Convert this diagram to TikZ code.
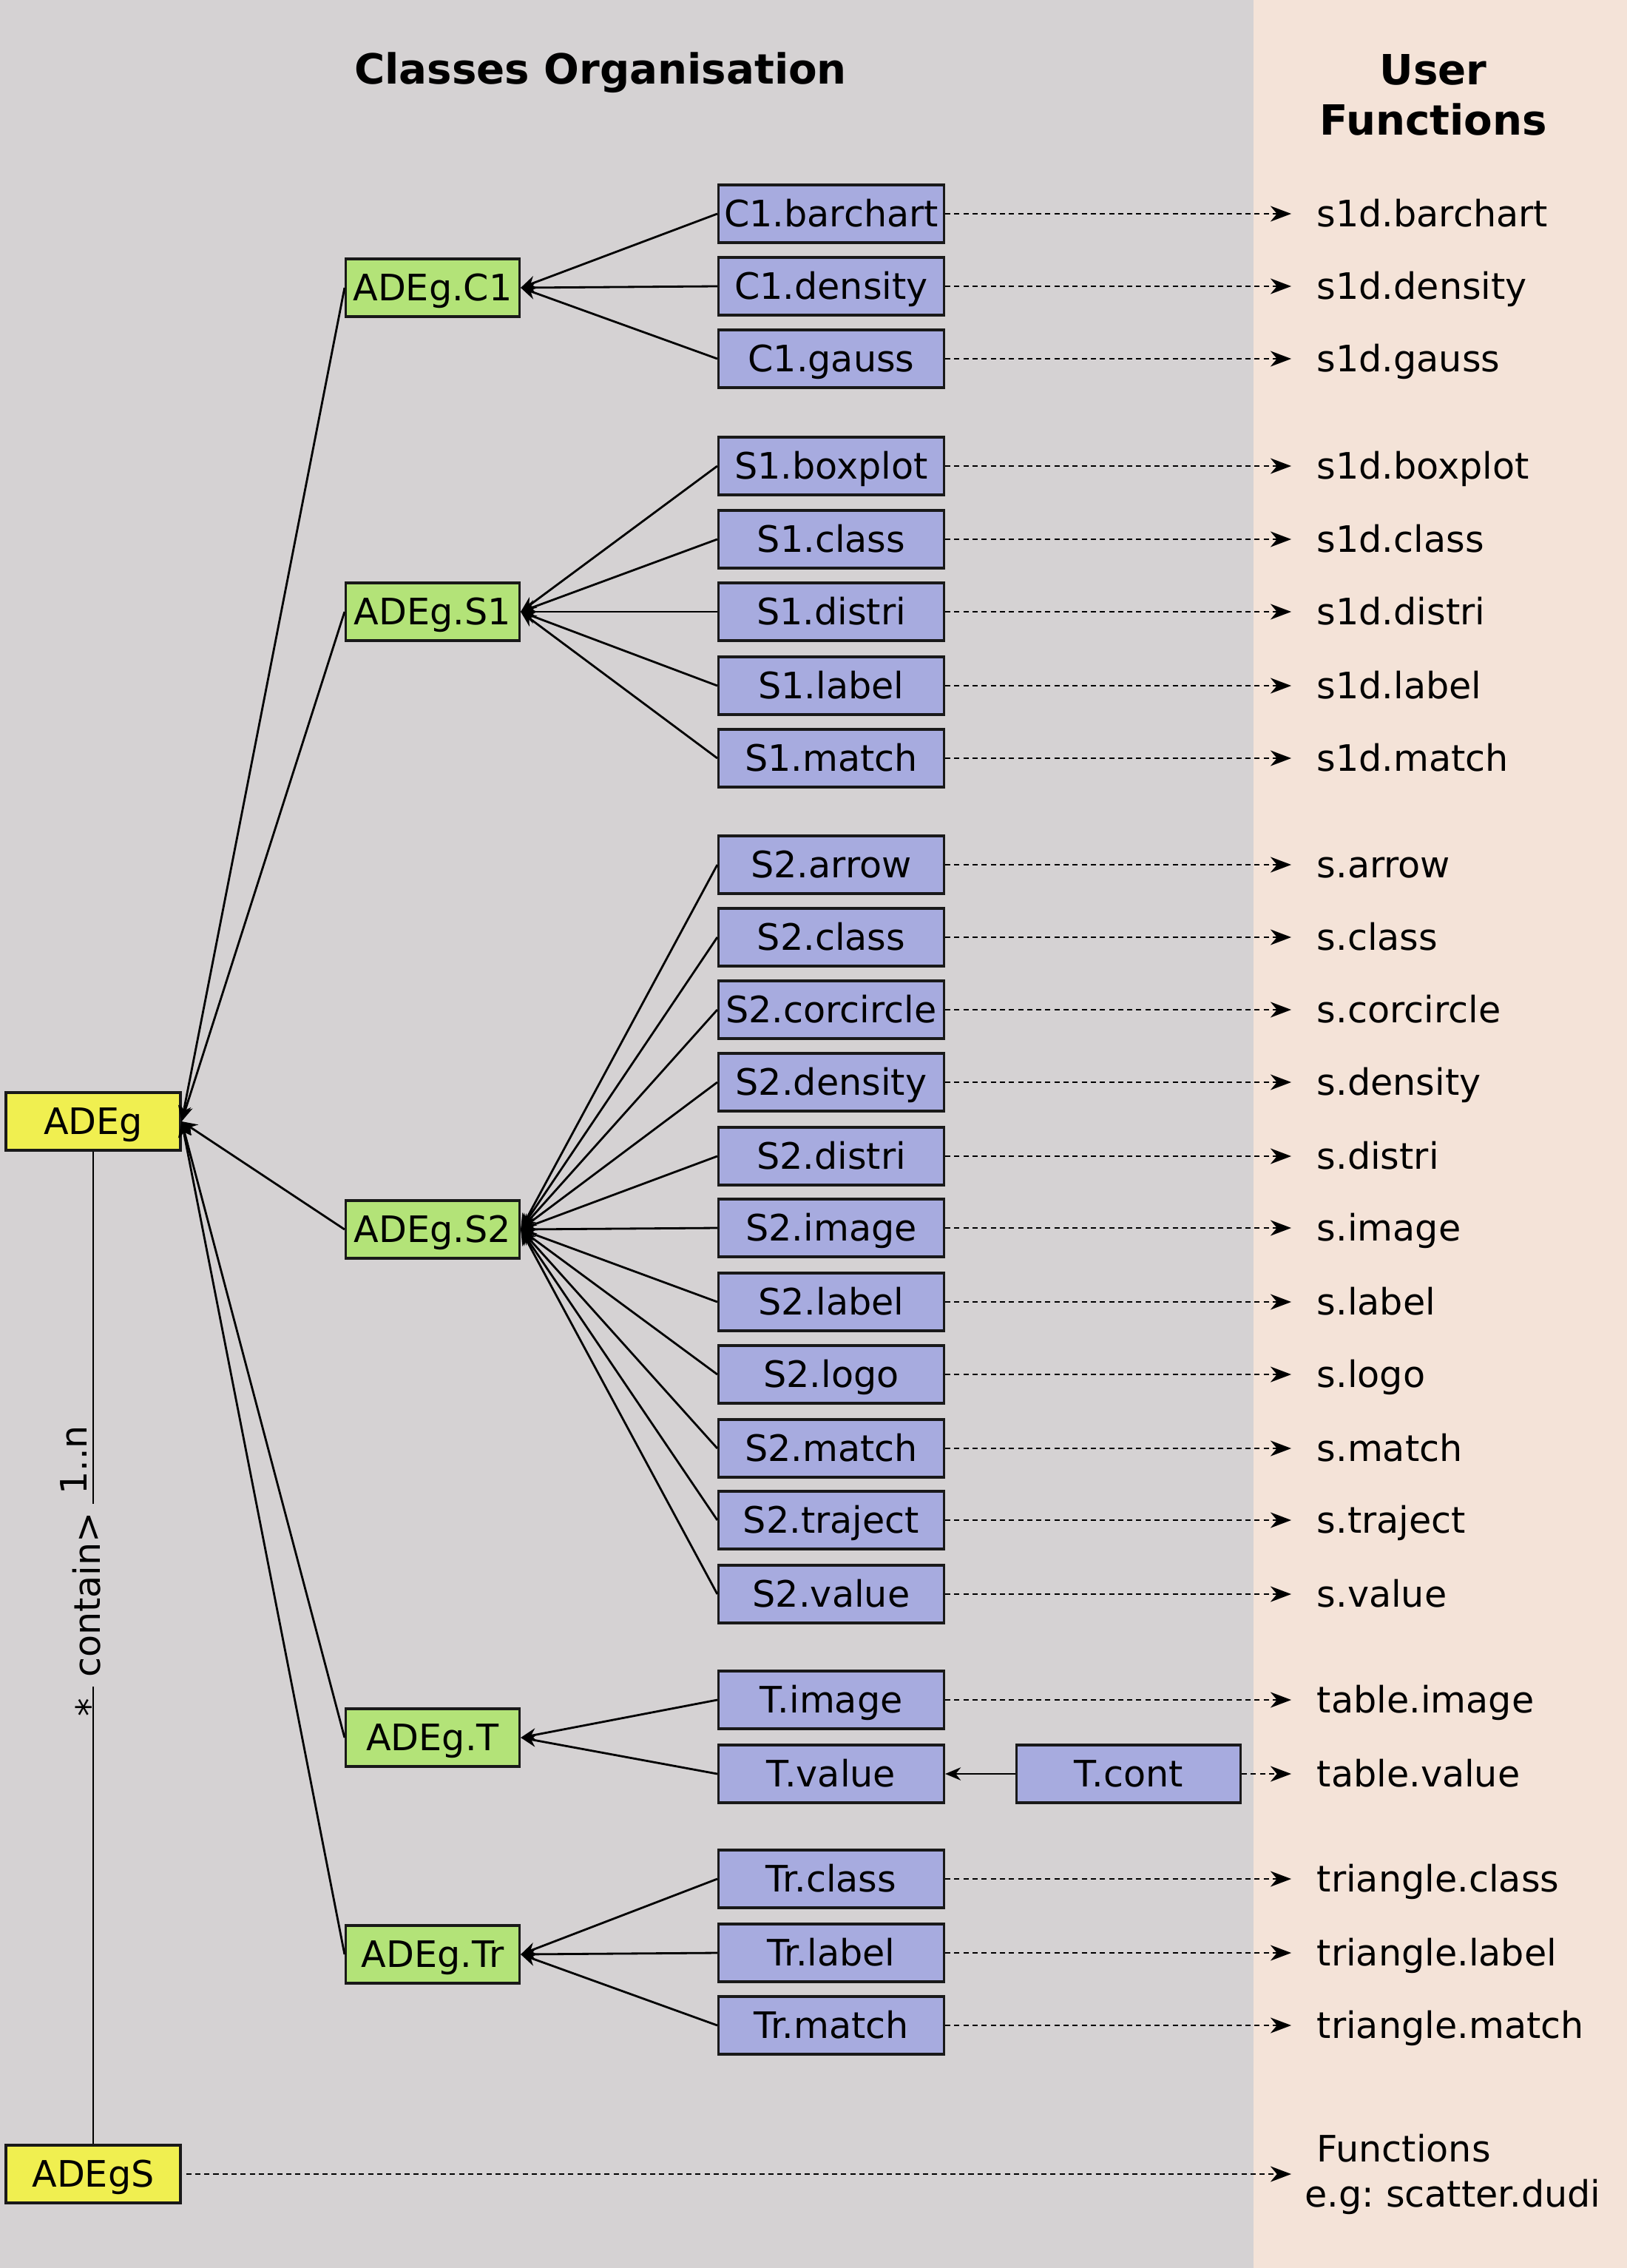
\documentclass[tikz,border=0pt]{standalone}
\usepackage{fontspec}
\setmainfont{DejaVu Sans}
\usetikzlibrary{arrows.meta, positioning}
\definecolor{clsbg}{HTML}{D5D2D3}
\definecolor{fnbg}{HTML}{F4E3D8}
\definecolor{cyel}{HTML}{F0EF50}
\definecolor{cgreen}{HTML}{B3E378}
\definecolor{cblue}{HTML}{A7ABDF}
\tikzset{
  % riga di testo
  oneline/.style={text height=12.7pt, text depth=3pt},
  % classe di base
  baseclass/.style={draw=black!90, line width=0.9pt, fill=cyel, minimum width=2.36cm,
    minimum height=0.78cm, inner sep=0pt, oneline},
  % classe intermedia
  midclass/.style={baseclass, fill=cgreen, minimum width=2.35cm},
  % classe foglia
  leafclass/.style={baseclass, fill=cblue, minimum width=3.05cm},
  % ereditarieta'
  inherit/.style={-{Stealth[length=6pt, width=5pt]}, line width=0.8pt},
  uses/.style={-{Stealth[length=6pt, width=5pt]}, line width=0.5pt},
  % collegamento a una funzione utente
  fnlink/.style={-{Stealth[length=8pt, width=6pt, inset=2.5pt]}, line width=0.6pt,
    dash pattern=on 2pt off 1.5pt},
  fnlbl/.style={anchor=west, inner sep=0pt},
  % titoli delle colonne
  coltitle/.style={font=\fontsize{16pt}{19.3pt}\selectfont\bfseries, align=center},
}
\begin{document}
\frenchspacing
\begin{tikzpicture}[every node/.style={font=\fontsize{14pt}{17.3pt}\selectfont}]
  \useasboundingbox (0,0) rectangle (22,-30.66);
  \fill[clsbg] (0,0) rectangle (16.95,-30.66);
  \fill[fnbg] (16.95,0) rectangle (22,-30.66);
  \node[coltitle] (tcls) at (8.12,-0.98) {Classes Organisation};
  \node[coltitle] (tfn) at (19.38,-1.28) {User\\Functions};
  % classi
  \node[baseclass] (adeg) at (1.26,-15.16) {ADEg};
  \node[baseclass] (adegs) at (1.26,-29.39) {ADEgS};
  \foreach \p/\t/\y in {c1/C1/3.89, s1/S1/8.27, s2/S2/16.62, t/T/23.49, tr/Tr/26.42} {
    \node[midclass] (\p) at (5.85,-\y) {ADEg.\t};
    \draw[inherit] (\p.west) -- (adeg.east);
  }
  \foreach \p/\t/\f/\y [count=\i] in {c1/C1.barchart/s1d.barchart/2.89, c1/C1.density/s1d.density/3.87,
      c1/C1.gauss/s1d.gauss/4.85, s1/S1.boxplot/s1d.boxplot/6.30, s1/S1.class/s1d.class/7.29,
      s1/S1.distri/s1d.distri/8.27, s1/S1.label/s1d.label/9.27, s1/S1.match/s1d.match/10.25,
      s2/S2.arrow/s.arrow/11.69, s2/S2.class/s.class/12.67, s2/S2.corcircle/s.corcircle/13.65,
      s2/S2.density/s.density/14.63, s2/S2.distri/s.distri/15.63, s2/S2.image/s.image/16.60,
      s2/S2.label/s.label/17.60, s2/S2.logo/s.logo/18.58, s2/S2.match/s.match/19.58,
      s2/S2.traject/s.traject/20.55, s2/S2.value/s.value/21.55, t/T.image/table.image/22.98,
      tr/Tr.class/triangle.class/25.40, tr/Tr.label/triangle.label/26.40,
      tr/Tr.match/triangle.match/27.38} {
    \node[leafclass] (leaf\i) at (11.24,-\y) {\t};
    \draw[inherit] (leaf\i.west) -- (\p.east);
    \node[fnlbl, oneline] (fn\i) at (17.80,-\y) {\f};
    \draw[fnlink, shorten >=0.34cm] (leaf\i.east) -- (fn\i.west);
  }
  \node[leafclass] (tval) at (11.24,-23.98) {T.value};
  \node[leafclass, minimum width=3.03cm] (tcont) at (15.26,-23.98) {T.cont};
  \node[fnlbl, oneline] (fntval) at (17.80,-23.98) {table.value};
  \draw[inherit] (tval.west) -- (t.east);
  \draw[uses] (tcont.west) -- (tval.east);
  \draw[fnlink, shorten >=0.34cm] (tcont.east) -- (fntval.west);
  % funzioni di ADEgS
  \node[fnlbl, align=left] (fnall) at (17.64,-29.39) {\hspace{0.16cm}Functions\\e.g: scatter.dudi};
  \draw[fnlink, shorten <=0.06cm, shorten >=0.18cm] (adegs.east) -- (fnall.west);
  % associazione
  \draw[line width=0.8pt] (adeg.south) -- (adegs.north);
  \node[rotate=90, fill=clsbg, minimum width=2.47cm, inner sep=1pt] (assoc) at (1.17,-21.56) {contain>};
  \node[rotate=90, inner sep=0pt] (mulend) at (1.00,-19.74) {1..n};
  \node[rotate=90, inner sep=0pt] (mulstart) at (1.20,-23.08) {*};
\end{tikzpicture}
\end{document}
